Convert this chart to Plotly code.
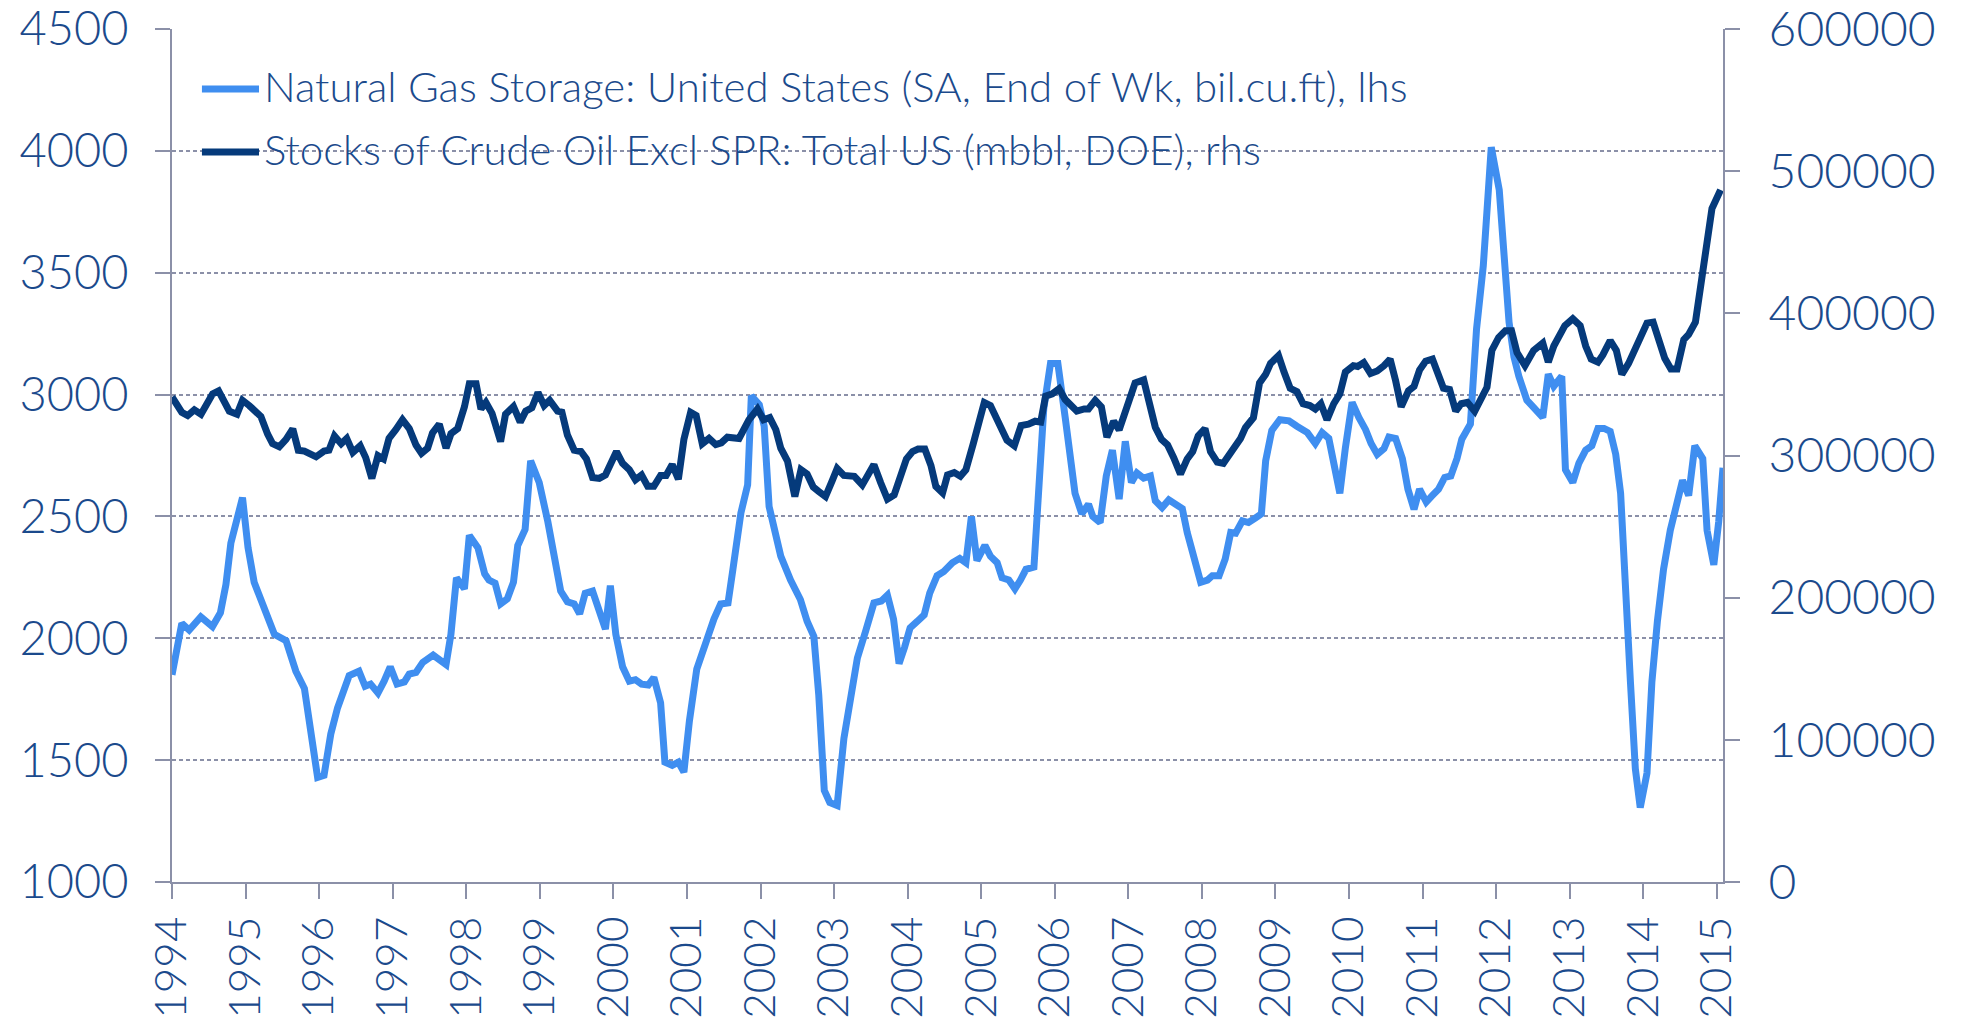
import plotly.graph_objects as go

# months since Jan 1994 and values
gas_month = [0, 1.6, 2.8, 4.7, 6.6, 7.9, 8.8, 9.6, 11.5, 12.4, 13.4, 14.5, 15.6, 16.7, 18.6, 20.2, 21.6,
             23.75, 24.8, 25.9, 27.0, 27.8, 28.9, 30.5, 31.5, 32.4, 33.6, 34.6, 35.6, 36.7, 37.9, 38.7,
             39.8, 40.9, 42.6, 44.7, 45.5, 46.4, 47.7, 48.5, 49.9, 51.0, 51.7, 52.7, 53.6, 54.7, 55.7,
             56.4, 57.6, 58.5, 59.9, 61.3, 62.3, 63.4, 64.5, 65.6, 66.5, 67.4, 68.6, 69.7, 70.7, 71.5,
             72.4, 73.5, 74.6, 75.6, 76.6, 77.7, 78.6, 79.7, 80.4, 81.6, 82.6, 83.5, 84.4, 85.6, 87.1,
             88.4, 89.5, 90.7, 91.5, 92.8, 93.9, 94.5, 95.8, 96.6, 97.4, 99.3, 100.9, 102.5, 103.6,
             104.7, 105.5, 106.4, 107.3, 108.5, 109.6, 110.8, 111.8, 113.2, 114.5, 115.7, 116.7, 117.7,
             118.6, 119.5, 120.4, 121.6, 122.7, 123.6, 124.8, 125.9, 127.3, 128.5, 129.5, 130.4, 131.3,
             132.6, 133.5, 134.6, 135.4, 136.5, 137.5, 138.4, 139.3, 140.6, 141.4, 142.2, 143.3, 144.5,
             145.7, 146.5, 147.3, 148.4, 149.5, 150.2, 151.4, 152.4, 153.4, 154.5, 155.5, 156.5, 157.4,
             158.5, 159.6, 160.4, 161.5, 162.6, 163.7, 164.8, 165.6, 166.7, 167.8, 168.9, 169.7, 170.8,
             171.8, 172.7, 173.5, 174.6, 175.6, 176.7, 177.7, 178.4, 179.4, 180.7, 182.2, 183.5, 185.2,
             186.5, 187.6, 188.7, 189.5, 190.5, 191.4, 192.5, 193.6, 194.7, 195.6, 196.6, 197.7, 198.5,
             199.6, 200.7, 201.6, 202.6, 203.5, 204.6, 205.6, 206.6, 207.6, 208.6, 209.6, 210.4, 211.8,
             212.8, 213.9, 215.2, 216.5, 217.2, 218.1, 218.9, 219.7, 221.0, 222.4, 223.6, 224.5, 225.4,
             226.7, 227.3, 228.5, 229.5, 230.6, 231.6, 232.6, 233.6, 234.6, 235.5, 236.3, 237.1, 237.9,
             238.7, 239.5, 240.6, 241.4, 242.3, 243.3, 244.4, 245.5, 246.4, 247.4, 248.4, 249.7, 250.4,
             251.5, 252.3, 253.0]
gas_value = [1850, 2061, 2034, 2088, 2048, 2105, 2221, 2390, 2577, 2372, 2230, 2159, 2105, 2016, 1990, 1865, 1794,
             1429, 1438, 1607, 1714, 1776, 1847, 1865, 1803, 1812, 1776, 1824, 1883, 1812, 1821, 1853,
             1860, 1901, 1931, 1892, 2016, 2248, 2203, 2422, 2372, 2265, 2239, 2226, 2141, 2162, 2230,
             2381, 2447, 2728, 2639, 2479, 2354, 2194, 2150, 2141, 2100, 2185, 2194, 2105, 2038, 2216,
             2016, 1883, 1824, 1830, 1812, 1808, 1839, 1735, 1492, 1479, 1492, 1451, 1661, 1874, 1990,
             2079, 2141, 2145, 2283, 2514, 2630, 2995, 2959, 2870, 2541, 2337, 2239, 2159, 2070,
             2008, 1767, 1376, 1326, 1314, 1589, 1785, 1919, 2034, 2145, 2153, 2177, 2079,
             1896, 1963, 2043, 2070, 2096, 2185, 2257, 2274, 2310, 2328, 2310, 2500, 2319,
             2381, 2337, 2310, 2248, 2239, 2203, 2239, 2283, 2292, 2657, 2941, 3128, 3128,
             2906, 2728, 2595, 2511, 2550, 2500, 2475, 2666, 2772, 2571, 2808, 2639, 2678,
             2657, 2666, 2564, 2536, 2568, 2550, 2532, 2434, 2337, 2230, 2239, 2257, 2257,
             2325, 2434, 2431, 2482, 2475, 2493, 2511, 2728, 2853, 2897, 2892, 2870, 2844,
             2799, 2844, 2820, 2728, 2595, 2781, 2968, 2906, 2856, 2799, 2755, 2778, 2826,
             2820, 2737, 2612, 2529, 2612, 2559, 2586, 2612, 2660, 2666, 2737, 2817, 2879,
             3270, 3529, 4015, 3840, 3564, 3297, 3155, 3075, 2977, 2941, 2906, 3084, 3034,
             3075, 2692, 2639, 2719, 2772, 2790, 2861, 2861, 2849, 2755, 2595, 2265, 1821,
             1465, 1305, 1447, 1821, 2070, 2283, 2443, 2550, 2648, 2586, 2790, 2737, 2443,
             2301, 2479, 2700]

oil_month = [0, 1.6, 2.55, 3.64, 4.73, 6.63, 7.6, 9.35, 10.6, 11.5, 12.6, 14.5, 15.6, 16.4, 17.5, 18.6, 19.7,
             20.6, 21.6, 23.5, 24.8, 25.6, 26.5, 27.6, 28.5, 29.5, 30.7, 31.6, 32.6, 33.6, 34.5, 35.4,
             36.5, 37.6, 38.7, 39.8, 40.7, 41.7, 42.5, 43.6, 44.7, 45.5, 46.6, 47.7, 48.5, 49.6, 50.4,
             51.2, 52.2, 53.6, 54.4, 55.7, 56.8, 57.7, 58.7, 59.7, 60.7, 61.6, 62.9, 63.6, 64.5, 65.6,
             66.7, 67.6, 68.6, 69.7, 70.7, 71.6, 72.5, 73.5, 74.6, 75.6, 76.6, 77.6, 78.6, 79.7, 80.6,
             81.6, 82.6, 83.5, 84.6, 85.5, 86.5, 87.6, 88.7, 89.6, 90.6, 92.5, 94.1, 95.5, 96.5, 97.5,
             98.5, 99.3, 100.4, 101.6, 102.6, 103.6, 104.6, 105.5, 106.6, 107.7, 108.5, 109.6, 111.3,
             112.6, 113.4, 114.5, 115.6, 116.7, 117.8, 118.8, 119.8, 120.8, 121.7, 122.8, 123.8, 124.6,
             125.7, 126.5, 127.6, 128.6, 129.5, 130.7, 132.5, 133.5, 134.8, 136.2, 137.4, 138.5, 139.7,
             140.8, 141.7, 142.5, 143.6, 144.7, 145.7, 146.6, 147.6, 148.8, 149.5, 150.6, 151.6, 152.5,
             153.6, 154.5, 155.8, 157.1, 158.5, 159.3, 160.4, 161.4, 162.4, 163.4, 164.5, 165.6, 166.5,
             167.4, 168.5, 169.4, 170.5, 171.5, 172.6, 173.2, 174.3, 175.1, 176.4, 177.4, 178.4, 179.2,
             180.5, 181.4, 182.4, 183.5, 184.5, 185.6, 186.5, 187.4, 188.4, 189.5, 190.5, 191.4, 192.7,
             193.4, 194.4, 195.5, 196.6, 197.7, 198.7, 199.6, 200.5, 201.7, 202.6, 203.5, 204.5, 205.6,
             206.4, 207.4, 208.4, 209.4, 210.3, 211.3, 212.5, 213.6, 214.5, 215.3, 216.4, 217.5, 218.5,
             219.4, 220.7, 222.1, 223.6, 224.5, 225.4, 227.2, 228.5, 229.7, 230.6, 231.5, 232.6, 233.4,
             234.6, 235.6, 236.5, 237.6, 239.0, 240.6, 241.6, 242.5, 243.5, 244.5, 245.5, 246.6, 247.4,
             248.5, 249.1, 250.1, 251.2, 252.6]
oil_value = [341200, 330300, 328100, 332100, 329000, 343400, 345500, 331200, 329000, 338800, 335100, 327500,
             315000, 308300, 306100, 311300, 318700, 303700, 303100, 299100, 303100, 303700, 313800, 308300,
             312000, 302200, 306800, 298500, 283900, 299900, 297600, 312000, 318100, 325100, 319000, 307400,
             301600, 305200, 315900, 322000, 305200, 315300, 318900, 334200, 350400, 350400, 332700, 337300,
             329700, 309800, 329000, 334500, 323500, 331200, 333600, 344300, 335100, 338800, 331200, 330500,
             314400, 303700, 302800, 297600, 284500, 283900, 286300, 294500, 302800, 294500, 290000, 282900,
             286300, 278300, 278300, 286000, 286000, 293600, 283300, 311300, 330300, 328100, 308300, 312000,
             307700, 308900, 312900, 312000, 325100, 332700, 325100, 326600, 318100, 305200, 296100, 271100,
             290000, 286900, 277800, 274700, 271100, 282400, 290900, 286000, 285400, 279300, 285400, 293600,
             280800, 269300, 272300, 286000, 297600, 302800, 304600, 304600, 293000, 278300, 273700, 286300,
             288000, 285400, 290000, 308300, 337300, 335100, 322000, 310700, 306800, 321100, 322000, 324100,
             323500, 341800, 343400, 347000, 339400, 335700, 331200, 332700, 332700, 338800, 334200, 312900,
             324100, 318100, 333300, 351000, 353200, 338800, 319900, 311300, 307400, 298500, 286900, 297600,
             302800, 313800, 319000, 302800, 295400, 294500, 301600, 303700, 312000, 319600, 326600, 351000,
             357100, 364800, 370200, 358700, 347300, 344900, 336400, 335100, 332700, 336400, 325100, 336400,
             343400, 358700, 363200, 362600, 365300, 357700, 359500, 363200, 367800, 352600, 334200, 345500,
             348600, 360100, 366300, 367800, 357100, 347300, 346400, 331200, 336400, 337300, 331200, 341800,
             348000, 373900, 383000, 387700, 387700, 372400, 363200, 373900, 379100, 365700, 377000, 391300,
             396200, 391300, 377000, 367800, 365700, 370800, 380900, 373900, 357100, 364800, 378500, 393100,
             393800, 383000, 368400, 360800, 360800, 381500, 385200, 393800, 412100, 441000, 473700, 486800]

years = [str(y) for y in range(1994, 2016)]
year_months = [12 * i for i in range(len(years))]

gas_name = "Natural Gas Storage: United States (SA, End of Wk, bil.cu.ft), lhs"
oil_name = "Stocks of Crude Oil Excl SPR: Total US (mbbl, DOE), rhs"

LIGHT = "#3f8ef0"
DARK = "#053a7b"
TEXT = "#1b4a8c"
GRID = "#8b90a8"
FONT = "Lato"

fig = go.Figure()
fig.add_trace(go.Scatter(x=gas_month, y=gas_value, mode="lines", name=gas_name,
                         line=dict(color=LIGHT, width=7), yaxis="y"))
fig.add_trace(go.Scatter(x=oil_month, y=oil_value, mode="lines", name=oil_name,
                         line=dict(color=DARK, width=7), yaxis="y2"))

# legend drawn by hand so the swatch length matches
for i, (name, col) in enumerate([(gas_name, LIGHT), (oil_name, DARK)]):
    yy = 0.9297 - i * 0.0739
    fig.add_shape(type="line", xref="paper", yref="paper", x0=0.0193, x1=0.0561, y0=yy, y1=yy,
                  line=dict(color=col, width=7))
    fig.add_annotation(text=name, xref="paper", yref="paper", x=0.0580, y=yy + 0.003,
                       xanchor="left", yanchor="middle", showarrow=False,
                       font=dict(family=FONT, size=42, color=TEXT, weight=300))

fig.update_layout(
    width=1967, height=1027,
    margin=dict(l=172, r=244, t=29, b=145, autoexpand=False),
    plot_bgcolor="white", paper_bgcolor="white",
    showlegend=False,
    font=dict(family=FONT, color=TEXT, weight=300),
    xaxis=dict(range=[0, 253], tickvals=year_months, ticktext=years, tickangle=-90,
               automargin=False, ticklabeloverflow="allow",
               showgrid=False, zeroline=False, showline=True, linecolor=GRID, linewidth=2,
               ticks="outside", ticklen=15, tickwidth=1.5, tickcolor=GRID,
               ticklabelstandoff=0,
               tickfont=dict(family=FONT, size=44, color=TEXT, weight=300)),
    yaxis=dict(range=[1000, 4500], dtick=500, showgrid=True, gridcolor=GRID, gridwidth=1.8,
               griddash="4px,3px", zeroline=False, showline=True, linecolor=GRID, linewidth=2,
               automargin=False, ticklabeloverflow="allow",
               ticks="outside", ticklen=15, tickwidth=1.5, tickcolor=GRID,
               ticklabelstandoff=17,
               tickfont=dict(family=FONT, size=47, color=TEXT, weight=300)),
    yaxis2=dict(range=[0, 600000], dtick=100000, overlaying="y", side="right",
                automargin=False, ticklabeloverflow="allow",
                showgrid=False, zeroline=False, showline=True, linecolor=GRID, linewidth=2,
                ticks="outside", ticklen=15, tickwidth=1.5, tickcolor=GRID,
                ticklabelstandoff=19, tickformat="d",
                tickfont=dict(family=FONT, size=48, color=TEXT, weight=300)),
)

# drop the default body margin so the figure fills the window exactly
fig.write_html("out.html", config={"displayModeBar": False},
               post_script="document.body.style.margin='0px';")
